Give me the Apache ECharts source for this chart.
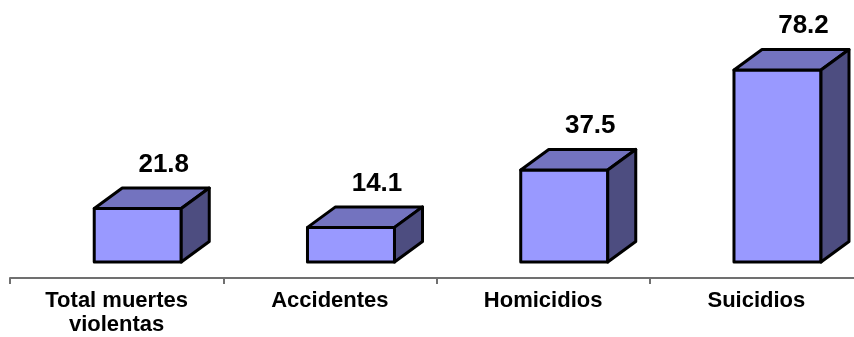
<!DOCTYPE html>
<html>
<head>
<meta charset="utf-8">
<script src="https://cdn.jsdelivr.net/npm/echarts@6/dist/echarts.min.js"></script>
<style>
  html, body { margin: 0; padding: 0; background: #fff; overflow: hidden; }
  #chart { width: 863px; height: 337px; }
</style>
</head>
<body>
<div id="chart"></div>
<script>
const categories = ['Total muertes\nviolentas', 'Accidentes', 'Homicidios', 'Suicidios'];
const values = [21.8, 14.1, 37.5, 78.2];

const FONT = '"Liberation Sans", Arial, sans-serif';
const FLOOR = 16; // pixel depth between the axis line and the bar fronts
const chart = echarts.init(document.getElementById('chart'), null, { renderer: 'canvas' });

function renderBar(params, api) {
  const i = api.value(0);
  const v = api.value(1);
  const base = api.coord([i, 0]);
  const top = api.coord([i, v]);
  const bw = api.size([1, 0])[0];
  const cx = base[0] + bw * 0.099;
  const w = bw * 0.408;
  const x0 = cx - w / 2, x1 = cx + w / 2;
  const y0 = top[1] - FLOOR, y1 = base[1] - FLOOR;
  const dx = w * 0.322, dy = 20.5;
  const stroke = { stroke: '#000', lineWidth: 3, lineJoin: 'round' };
  return {
    type: 'group',
    children: [
      { type: 'polygon', shape: { points: [[x0, y0], [x1, y0], [x1, y1], [x0, y1]] },
        style: Object.assign({ fill: '#9999FF' }, stroke) },
      { type: 'polygon', shape: { points: [[x0, y0], [x0 + dx, y0 - dy], [x1 + dx, y0 - dy], [x1, y0]] },
        style: Object.assign({ fill: '#7373BF' }, stroke) },
      { type: 'polygon', shape: { points: [[x1, y0], [x1 + dx, y0 - dy], [x1 + dx, y1 - dy], [x1, y1]] },
        style: Object.assign({ fill: '#4D4D80' }, stroke) },
      { type: 'text', style: { text: String(v), x: cx + dx - 2, y: y0 - 44,
        font: 'bold 26px ' + FONT, fill: '#000', align: 'center', verticalAlign: 'middle' } }
    ]
  };
}

chart.setOption({
  animation: false,
  backgroundColor: '#fff',
  grid: { left: 10, right: 0, top: 32.5, bottom: 59, containLabel: false },
  xAxis: {
    type: 'category',
    data: categories,
    axisLine: { show: true, lineStyle: { color: '#707070', width: 2 } },
    axisTick: { show: true, length: 6, lineStyle: { color: '#707070', width: 2 } },
    axisLabel: { color: '#000', fontFamily: FONT, fontWeight: 'bold', fontSize: 22,
      lineHeight: 24, margin: 11, interval: 0 }
  },
  yAxis: { type: 'value', min: 0, max: 100, show: false, splitLine: { show: false } },
  series: [{
    type: 'custom',
    renderItem: renderBar,
    clip: false,
    encode: { x: 0, y: 1 },
    data: values.map((v, i) => [i, v])
  }]
});
</script>
</body>
</html>
